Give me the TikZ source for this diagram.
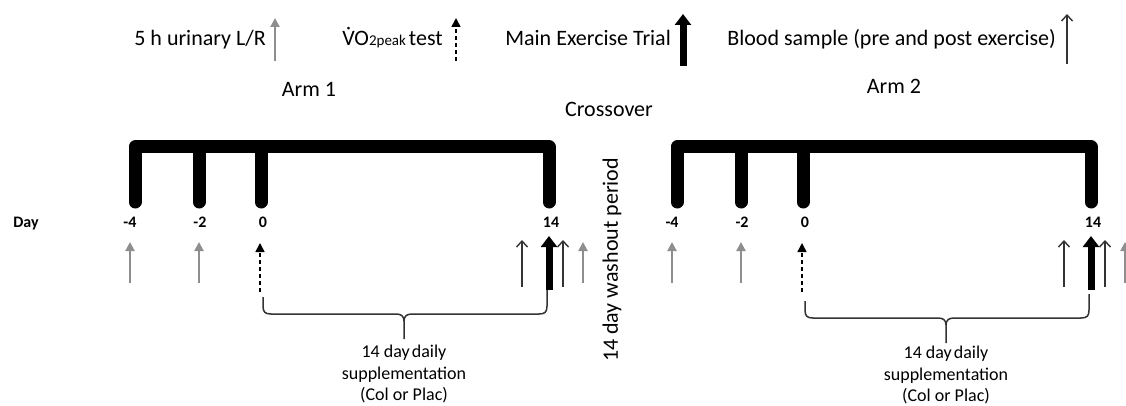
\documentclass[tikz,border=0pt]{standalone}
\usepackage{fontspec}
\setmainfont{Carlito}
\usetikzlibrary{arrows.meta}
\definecolor{grayarr}{HTML}{8E8E8E}
\definecolor{darkline}{HTML}{333333}
\begin{document}
\begin{tikzpicture}[x=1pt,y=-1pt,
  legendtxt/.style={font=\fontsize{22}{26}\selectfont, anchor=base east, inner sep=0pt},
  headtxt/.style={font=\fontsize{22}{26}\selectfont, anchor=base, inner sep=0pt},
  daytxt/.style={font=\fontsize{16}{19}\selectfont\bfseries, anchor=base, inner sep=0pt},
  suptxt/.style={font=\fontsize{18}{21.5}\selectfont, align=center, anchor=north, inner sep=0pt},
  barline/.style={line width=13pt, line cap=round, line join=round},
  grayarrow/.style={draw=grayarr, line width=2pt, -{Triangle[width=9pt,length=9pt]}},
  thinarrow/.style={draw=darkline, line width=1.4pt, -{Straight Barb[length=6pt,width=11pt]}},
  thickarrow/.style={draw=black, line width=7pt, -{Triangle[width=16pt,length=11pt]}},
  dasharrow/.style={draw=black, line width=1.5pt, dash pattern=on 4pt off 3pt, -{Triangle[width=9pt,length=9pt]}},
  bracepath/.style={draw=darkline, line width=1.5pt},
]
\useasboundingbox (0,0) rectangle (1126,406);
\fill[white] (0,0) rectangle (1126,406);

% ---------- legend ----------
\node[legendtxt] (lgA) at (266,46) {5 h urinary L/R};
\coordinate (lgAs) at (275,61); \coordinate (lgAe) at (275,18);
\draw[grayarrow] (lgAs) -- (lgAe);

\node[legendtxt] (lgB) at (443,46) {\accent"02D9 VO{\fontsize{15}{15}\selectfont 2peak}\hspace{3pt}test};
\coordinate (lgBs) at (456,61); \coordinate (lgBe) at (456,18);
\draw[dasharrow] (lgBs) -- (lgBe);

\node[legendtxt] (lgC) at (671,46) {Main Exercise Trial};
\coordinate (lgCs) at (683,66); \coordinate (lgCe) at (683,14);
\draw[thickarrow] (lgCs) -- (lgCe);

\node[legendtxt] (lgD) at (1056,46) {Blood sample (pre and post exercise)};
\coordinate (lgDs) at (1067,64); \coordinate (lgDe) at (1067,14);
\draw[thinarrow] (lgDs) -- (lgDe);

% ---------- headings ----------
\node[headtxt] (arm1) at (309,97) {Arm 1};
\node[headtxt] (arm2) at (894,94) {Arm 2};
\node[headtxt] (cross) at (609,117) {Crossover};
\node[daytxt] (day) at (26,227) {Day};
\node[rotate=90, font=\fontsize{22}{26}\selectfont, inner sep=0pt] (washout) at (612,260) {14 day washout period};

% ---------- arms ----------
\foreach \a/\dx/\dy/\dt in {1/0/0/0,2/542/4/1}{
\begin{scope}[xshift=\dx pt]
  % bracket
  \draw[barline] (135,202) -- (135,147) -- (549,147) -- (549,202);
  \draw[barline] (199,147) -- (199,202);
  \draw[barline] (261,147) -- (261,202);
  % day labels
  \node[daytxt] (dm4\a) at (130,227) {-4};
  \node[daytxt] (dm2\a) at (200,227) {-2};
  \node[daytxt] (d0\a)  at (263,227) {0};
  \node[daytxt] (d14\a) at (551,227) {14};
  % arrows
  \coordinate (ga\a s) at (130,283); \coordinate (ga\a e) at (130,242);
  \coordinate (gb\a s) at (199,283); \coordinate (gb\a e) at (199,242);
  \coordinate (ds\a s) at (260,292); \coordinate (ds\a e) at (260,243);
  \coordinate (ta\a s) at (522,287); \coordinate (ta\a e) at (522,240);
  \coordinate (tk\a s) at (549,290); \coordinate (tk\a e) at (549,236);
  \coordinate (tb\a s) at (563,287); \coordinate (tb\a e) at (563,240);
  \coordinate (gc\a s) at (583,283); \coordinate (gc\a e) at (583,242);
  \draw[grayarrow] (ga\a s) -- (ga\a e);
  \draw[grayarrow] (gb\a s) -- (gb\a e);
  \draw[dasharrow] (ds\a s) -- (ds\a e);
  \draw[thinarrow] (ta\a s) -- (ta\a e);
  \draw[thickarrow] (tk\a s) -- (tk\a e);
  \draw[thinarrow] (tb\a s) -- (tb\a e);
  \draw[grayarrow] (gc\a s) -- (gc\a e);
  % brace
  \begin{scope}[yshift=-\dy pt]
    \draw[bracepath] (263,297) -- (263,306) .. controls (263,312) and (265,314) .. (271,314)
      -- (396,314) .. controls (401,314) and (404,316) .. (404,321) -- (404,339);
    \draw[bracepath] (404,321) .. controls (404,316) and (407,314) .. (412,314)
      -- (539,314) .. controls (545,314) and (547,312) .. (547,306) -- (547,290);
  \end{scope}
  \begin{scope}[yshift=-\dt pt]
    \node[suptxt] (sup\a) at (404,345) {14 day\hspace{-2pt} daily\\supplementation\\(Col or Plac)};
  \end{scope}
\end{scope}
}
\end{tikzpicture}
\end{document}
